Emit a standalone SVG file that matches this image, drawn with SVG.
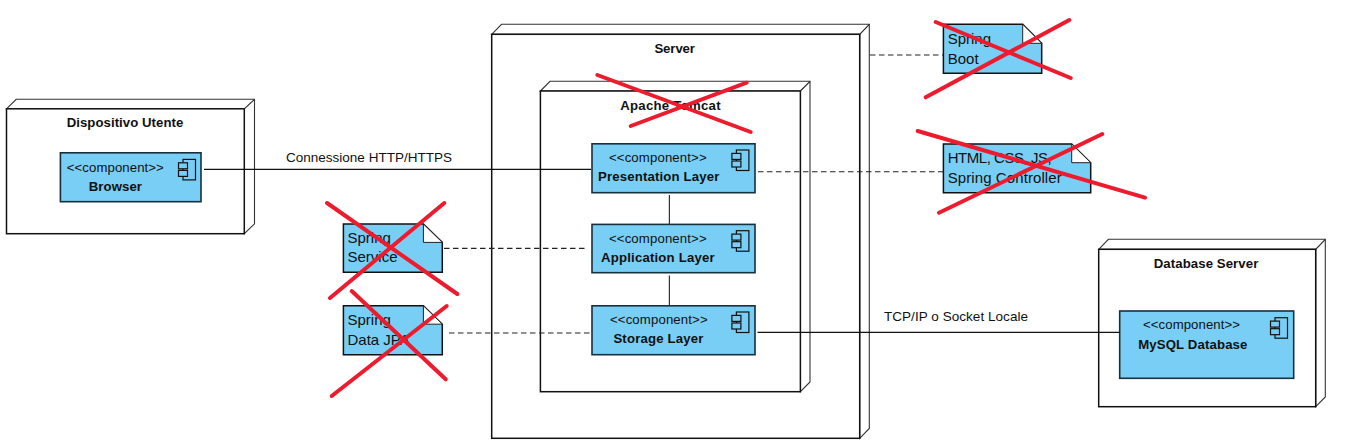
<svg xmlns="http://www.w3.org/2000/svg" width="1349" height="447" viewBox="0 0 1349 447">
<style>
.box{fill:#fff;stroke:#111;stroke-width:1.5}
.back{fill:#fff;stroke:#333;stroke-width:1.1}
.edge{fill:none;stroke:#222;stroke-width:1.1}
.comp{fill:#79cef5;stroke:#16303f;stroke-width:1.6}
.note{fill:#79cef5;stroke:#111;stroke-width:1.5}
.fold{fill:#fff;stroke:#222;stroke-width:1}
.ic{fill:#79cef5;stroke:#111;stroke-width:1.2}
text{font-family:"Liberation Sans",Arial,sans-serif;fill:#111}
.b{font-size:13.2px;font-weight:bold}
.s{font-size:13.2px}
.n{font-size:15px}
.l{font-size:13.5px}
.solid{fill:none;stroke:#111;stroke-width:1.3}
.thin{fill:none;stroke:#333;stroke-width:1.2}
.dash{fill:none;stroke:#222;stroke-width:1.1;stroke-dasharray:5.5 3.5}
.x{fill:none;stroke:#ee1b2e;stroke-width:4;stroke-linecap:round}
</style>
<defs>
<g id="icon">
<rect class="ic" x="0" y="0" width="12.5" height="20.5"/>
<rect class="ic" x="-4.5" y="3.4" width="9" height="6"/>
<rect class="ic" x="-4.5" y="11" width="9" height="6"/>
</g>
</defs>

<g id="node-device">
<path class="back" d="M6.5 108.8L16.2 99.3H254.5V223.8L244.3 233.7V108.8H6.5Z"/>
<rect class="box" x="6.5" y="108.8" width="237.8" height="124.9"/>
<path class="edge" d="M244.3 108.8L254.5 99.3"/>
<text class="b" x="66.7" y="127" textLength="116.6">Dispositivo Utente</text>
</g>
<g id="node-browser">
<rect class="comp" x="60.4" y="152.8" width="140.6" height="48.9"/>
<use href="#icon" x="183" y="159.4"/>
<text class="s" x="66.8" y="171.5" textLength="97">&lt;&lt;component&gt;&gt;</text>
<text class="b" x="88.7" y="190.7" textLength="53.3">Browser</text>
</g>

<g id="node-server">
<path class="back" d="M491.7 34.3L501.5 24.3H869.3V428.5L859.7 438.3V34.3H491.7Z"/>
<rect class="box" x="491.7" y="34.3" width="368" height="404"/>
<path class="edge" d="M859.7 34.3L869.3 24.3"/>
<text class="b" x="654.4" y="52.7" textLength="40.6">Server</text>
</g>
<g id="node-tomcat">
<path class="back" d="M540.4 91L550 81.3H810V382L800.4 391.7V91H540.4Z"/>
<rect class="box" x="540.4" y="91" width="260" height="300.7"/>
<path class="edge" d="M800.4 91L810 81.3"/>
<text class="b" x="620.2" y="110" textLength="100.4">Apache Tomcat</text>
</g>
<g id="node-presentation">
<rect class="comp" x="592" y="143.8" width="163" height="48.9"/>
<use href="#icon" x="736.4" y="150"/>
<text class="s" x="609" y="162" textLength="97.6">&lt;&lt;component&gt;&gt;</text>
<text class="b" x="598" y="180.7" textLength="121.3">Presentation Layer</text>
</g>
<g id="node-application">
<rect class="comp" x="592" y="224.4" width="163" height="48.3"/>
<use href="#icon" x="736.4" y="230.7"/>
<text class="s" x="609" y="243" textLength="97.6">&lt;&lt;component&gt;&gt;</text>
<text class="b" x="601" y="261.7" textLength="113.6">Application Layer</text>
</g>
<g id="node-storage">
<rect class="comp" x="592" y="305.8" width="163" height="48.9"/>
<use href="#icon" x="736.4" y="312"/>
<text class="s" x="610" y="324" textLength="97.6">&lt;&lt;component&gt;&gt;</text>
<text class="b" x="613.4" y="342.7" textLength="90">Storage Layer</text>
</g>

<g id="node-dbserver">
<path class="back" d="M1098.7 249.3L1108.4 239.3H1325.3V397L1315.7 406.7V249.3H1098.7Z"/>
<rect class="box" x="1098.7" y="249.3" width="217" height="157.4"/>
<path class="edge" d="M1315.7 249.3L1325.3 239.3"/>
<text class="b" x="1153.7" y="267.7" textLength="104.6">Database Server</text>
</g>
<g id="node-mysql">
<rect class="comp" x="1119.7" y="311" width="174" height="67.3"/>
<use href="#icon" x="1275" y="317.7"/>
<text class="s" x="1143" y="329.3" textLength="97">&lt;&lt;component&gt;&gt;</text>
<text class="b" x="1138.2" y="348.7" textLength="109.2">MySQL Database</text>
</g>

<g id="note-service">
<path class="note" d="M343.4 224H423.4L442.3 242.4V272.3H343.4Z"/>
<path class="fold" d="M423.4 224V242.4H442.3Z"/>
<text class="n" x="347.5" y="242.7">Spring</text>
<text class="n" x="347.5" y="262">Service</text>
</g>
<g id="note-jpa">
<path class="note" d="M343.4 305.8H423.4L442.3 324.2V354.7H343.4Z"/>
<path class="fold" d="M423.4 305.8V324.2H442.3Z"/>
<text class="n" x="347.5" y="325">Spring</text>
<text class="n" x="347.5" y="344.7">Data JPA</text>
</g>
<g id="note-boot">
<path class="note" d="M943.4 24.3H1022.7L1041.7 43.3V73.3H943.4Z"/>
<path class="fold" d="M1022.7 24.3V43.3H1041.7Z"/>
<text class="n" x="947.7" y="44.3">Spring</text>
<text class="n" x="947.7" y="63.7">Boot</text>
</g>
<g id="note-html">
<path class="note" d="M943.4 144H1071.7L1090.7 162.7V192.7H943.4Z"/>
<path class="fold" d="M1071.7 144V162.7H1090.7Z"/>
<text class="n" x="947.7" y="163" textLength="104">HTML, CSS, JS,</text>
<text class="n" x="947.7" y="182.7" textLength="114">Spring Controller</text>
</g>

<g id="connectors">
<path class="solid" d="M204 169.4H591"/>
<path class="thin" d="M669.4 195V224.4"/>
<path class="thin" d="M669.4 275.5V305.8"/>
<path class="solid" d="M757.5 332.4H1119.7"/>
<path class="dash" d="M758 171.7H943"/>
<path class="dash" d="M444 248.4H588"/>
<path class="dash" d="M449 333H592"/>
<path class="dash" d="M870 55H943"/>
<text class="l" x="286" y="161.7" textLength="166">Connessione HTTP/HTTPS</text>
<text class="l" x="884" y="320.5" textLength="144">TCP/IP o Socket Locale</text>
</g>

<g id="crosses">
<path class="x" d="M327 203L457.3 294M444.3 203L330 298"/>
<path class="x" d="M351.7 291L445.7 379.3M446.7 306L331.7 396"/>
<path class="x" d="M597.3 75L750.7 132M746.7 82.7L630.7 126"/>
<path class="x" d="M935.7 22L1070.7 78M1069.3 20L925.7 97.3"/>
<path class="x" d="M917.7 131L1145 197.7M1102.3 134L939 212.7"/>
</g>
</svg>
